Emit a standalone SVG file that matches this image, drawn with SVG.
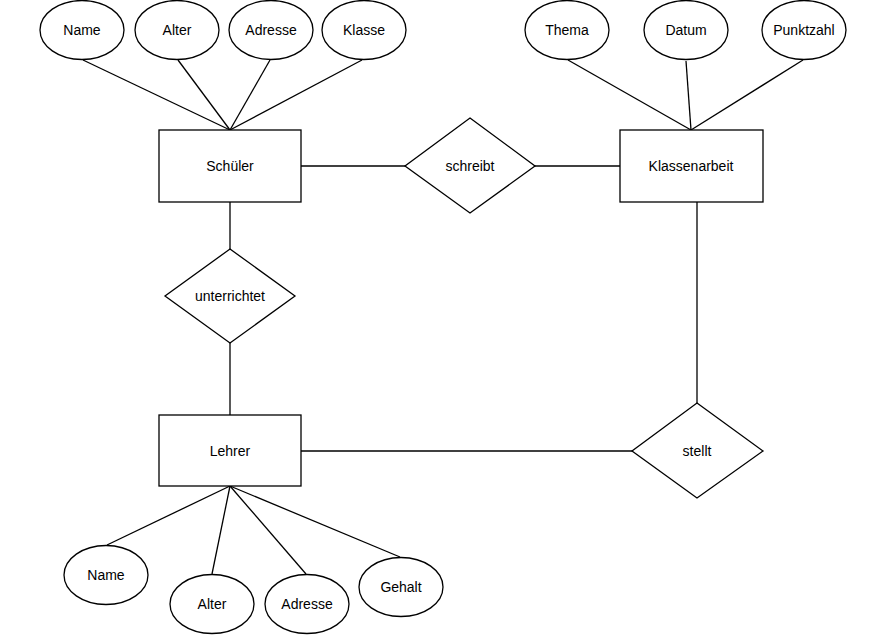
<svg xmlns="http://www.w3.org/2000/svg" width="888" height="635" viewBox="0 0 888 635">
<style>
.s{fill:#fff;stroke:#000;stroke-width:1.3}
.c line{stroke:#000;stroke-width:1.3}
text{font-family:"Liberation Sans",Arial,sans-serif;font-size:14px;fill:#000;text-anchor:middle;dominant-baseline:central}
</style>
<rect width="888" height="635" fill="#fff"/>
<g id="connectors" class="c">
<line x1="83" y1="60" x2="230" y2="130"/>
<line x1="178" y1="60" x2="230" y2="130"/>
<line x1="270" y1="60" x2="230" y2="130"/>
<line x1="362" y1="60" x2="230" y2="130"/>
<line x1="568" y1="60" x2="691" y2="130"/>
<line x1="686" y1="61" x2="691" y2="130"/>
<line x1="803" y1="60" x2="691" y2="130"/>
<line x1="301" y1="166" x2="405" y2="166"/>
<line x1="535" y1="166" x2="620" y2="166"/>
<line x1="230" y1="202" x2="230" y2="249"/>
<line x1="230" y1="343" x2="230" y2="415"/>
<line x1="301" y1="451" x2="632" y2="451"/>
<line x1="697" y1="202" x2="697" y2="403"/>
<line x1="230" y1="486" x2="107" y2="545"/>
<line x1="230" y1="486" x2="212" y2="574"/>
<line x1="230" y1="486" x2="306" y2="574"/>
<line x1="230" y1="486" x2="400" y2="557"/>
</g>
<g id="s_name"><ellipse class="s" cx="82" cy="30" rx="42" ry="29.5"/><text x="82" y="30">Name</text></g>
<g id="s_alter"><ellipse class="s" cx="177" cy="30" rx="42" ry="29.5"/><text x="177" y="30">Alter</text></g>
<g id="s_adresse"><ellipse class="s" cx="271" cy="30" rx="42" ry="29.5"/><text x="271" y="30">Adresse</text></g>
<g id="s_klasse"><ellipse class="s" cx="364" cy="30" rx="42" ry="29.5"/><text x="364" y="30">Klasse</text></g>
<g id="thema"><ellipse class="s" cx="567" cy="30" rx="42" ry="29.5"/><text x="567" y="30">Thema</text></g>
<g id="datum"><ellipse class="s" cx="686" cy="30" rx="42" ry="29.5"/><text x="686" y="30">Datum</text></g>
<g id="punktzahl"><ellipse class="s" cx="804" cy="30" rx="42" ry="29.5"/><text x="804" y="30">Punktzahl</text></g>
<g id="schueler"><rect class="s" x="159" y="130" width="142" height="72"/><text x="230" y="166">Schüler</text></g>
<g id="klassenarbeit"><rect class="s" x="620" y="130" width="143" height="72"/><text x="691" y="166">Klassenarbeit</text></g>
<g id="schreibt"><polygon class="s" points="470,118 535,166 470,213 405,166"/><text x="470" y="166">schreibt</text></g>
<g id="unterrichtet"><polygon class="s" points="230,249 295,296 230,343 165,296"/><text x="230" y="296">unterrichtet</text></g>
<g id="lehrer"><rect class="s" x="159" y="415" width="142" height="71"/><text x="230" y="451">Lehrer</text></g>
<g id="stellt"><polygon class="s" points="697,403 763,451 697,498 632,451"/><text x="697" y="451">stellt</text></g>
<g id="l_name"><ellipse class="s" cx="106" cy="575" rx="42" ry="29.5"/><text x="106" y="575">Name</text></g>
<g id="l_alter"><ellipse class="s" cx="212" cy="604" rx="42" ry="29.5"/><text x="212" y="604">Alter</text></g>
<g id="l_adresse"><ellipse class="s" cx="307" cy="604" rx="42" ry="29.5"/><text x="307" y="604">Adresse</text></g>
<g id="l_gehalt"><ellipse class="s" cx="401" cy="587" rx="42" ry="29.5"/><text x="401" y="587">Gehalt</text></g>
</svg>
